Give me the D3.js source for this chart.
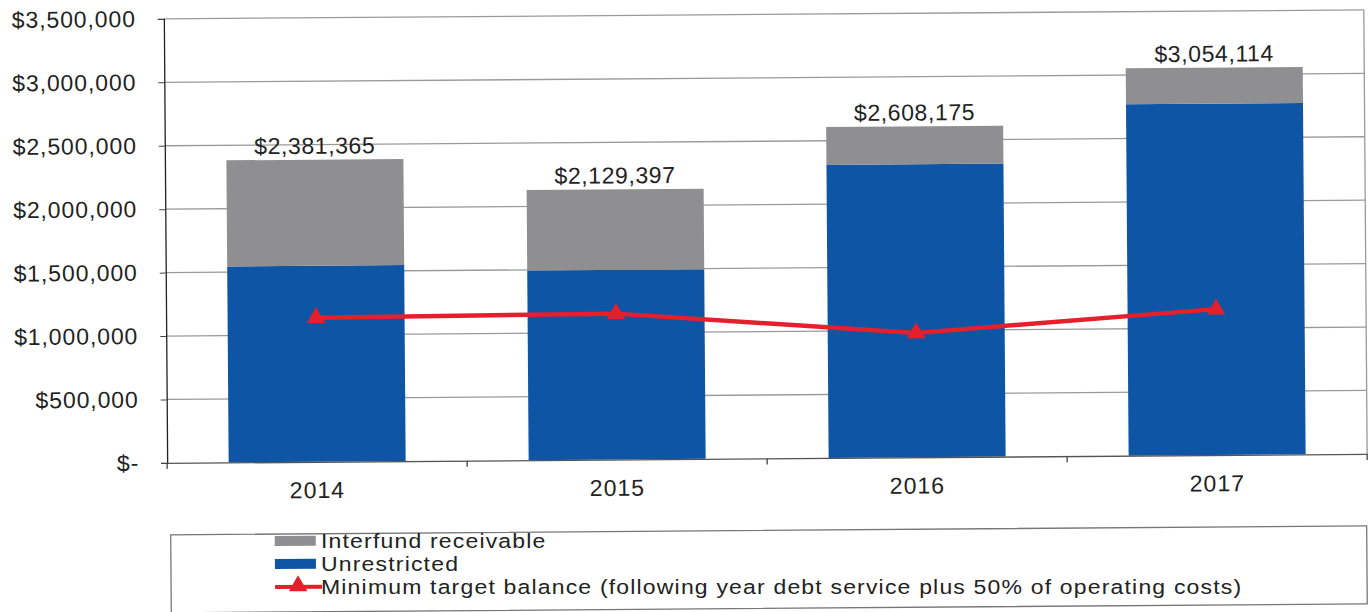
<!DOCTYPE html>
<html>
<head>
<meta charset="utf-8">
<script src="https://cdn.jsdelivr.net/npm/d3@7"></script>
<style>
  html, body { margin: 0; padding: 0; background: #fff; }
  svg { display: block; }
  text { font-family: "Liberation Sans", Arial, sans-serif; fill: #222; }
</style>
</head>
<body>
<svg id="chart" width="1369" height="612"></svg>
<script>
// Fund balance by year
const years = ["2014", "2015", "2016", "2017"];
const unrestricted = [1545000, 1495000, 2310000, 2770000];
const totals = [2381365, 2129397, 2608175, 3054114];
const interfund = totals.map((t, i) => t - unrestricted[i]);
const minimumTarget = [1135000, 1150000, 980000, 1150000];
const yTicks = [0, 500000, 1000000, 1500000, 2000000, 2500000, 3000000, 3500000];
const legendLabels = [
  "Interfund receivable",
  "Unrestricted",
  "Minimum target balance (following year debt service plus 50% of operating costs)"
];

const colors = { interfund: "#8f8f91", unrestricted: "#0e55a5", target: "#e61f2c", grid: "#9a9a9a" };

const W = 1369, H = 612;
const plot = { left: 166, right: 1366, top: 15, bottom: 459 };
const FONT = "Liberation Sans, Arial, sans-serif";

const svg = d3.select("#chart");
// slight tilt of the whole page
const g = svg.append("g").attr("transform", `rotate(-0.43 ${W / 2} ${H / 2})`);

const x = d3.scaleBand().domain(years).range([plot.left, plot.right]).paddingInner(0.41).paddingOuter(0.205);
const xc = d3.scaleBand().domain(years).range([plot.left, plot.right]);
const y = d3.scaleLinear().domain([0, 3500000]).range([plot.bottom, plot.top]);

const money = v => v === 0 ? "$-" : "$" + d3.format(",")(v);

// gridlines
g.append("g").selectAll("line").data(yTicks.filter(d => d > 0)).join("line")
  .attr("x1", plot.left).attr("x2", plot.right)
  .attr("y1", d => y(d)).attr("y2", d => y(d))
  .attr("stroke", colors.grid).attr("stroke-width", 1.3);

// plot border (right side)
g.append("line").attr("x1", plot.right).attr("x2", plot.right)
  .attr("y1", plot.top).attr("y2", plot.bottom)
  .attr("stroke", colors.grid).attr("stroke-width", 1.3);

// stacked bars
const barG = g.append("g");
barG.selectAll("rect.unr").data(years).join("rect")
  .attr("class", "unr")
  .attr("x", d => x(d)).attr("width", x.bandwidth())
  .attr("y", (d, i) => y(unrestricted[i]))
  .attr("height", (d, i) => y(0) - y(unrestricted[i]))
  .attr("fill", colors.unrestricted);
barG.selectAll("rect.inter").data(years).join("rect")
  .attr("class", "inter")
  .attr("x", d => x(d)).attr("width", x.bandwidth())
  .attr("y", (d, i) => y(unrestricted[i] + interfund[i]))
  .attr("height", (d, i) => y(unrestricted[i]) - y(unrestricted[i] + interfund[i]))
  .attr("fill", colors.interfund);

// total labels
g.append("g").selectAll("text").data(years).join("text")
  .attr("x", d => x(d) + x.bandwidth() / 2)
  .attr("y", (d, i) => y(totals[i]) - 6)
  .attr("text-anchor", "middle")
  .attr("font-size", 23).attr("letter-spacing", 0.6)
  .text((d, i) => money(totals[i]));

// y axis
const yAxis = d3.axisLeft(y).tickValues(yTicks).tickSize(6).tickPadding(22).tickFormat(money);
const ya = g.append("g").attr("transform", `translate(${plot.left},0)`).call(yAxis);
ya.select(".domain").attr("stroke", "#222").attr("stroke-width", 1.3);
ya.selectAll(".tick line").attr("stroke", "#444");
ya.selectAll(".tick text").attr("font-size", 23).attr("letter-spacing", 0.9)
  .attr("font-family", FONT).attr("fill", "#222");

// x axis
const xa = g.append("g").attr("transform", `translate(0,${plot.bottom})`)
  .call(d3.axisBottom(xc).tickSize(0).tickPadding(20));
xa.select(".domain").attr("stroke", "#555").attr("stroke-width", 1.3);
xa.selectAll(".tick text").attr("font-size", 23).attr("letter-spacing", 1)
  .attr("font-family", FONT).attr("fill", "#222");
// category separators below the baseline
g.append("g").selectAll("line").data(d3.range(years.length + 1)).join("line")
  .attr("x1", i => plot.left + i * xc.step()).attr("x2", i => plot.left + i * xc.step())
  .attr("y1", plot.bottom).attr("y2", plot.bottom + 6)
  .attr("stroke", "#444").attr("stroke-width", 1.3);

// minimum target line
const lineGen = d3.line().x((d, i) => xc(years[i]) + xc.bandwidth() / 2).y(d => y(d));
g.append("path").datum(minimumTarget)
  .attr("d", lineGen).attr("fill", "none")
  .attr("stroke", colors.target).attr("stroke-width", 4.5);
const tri = d3.symbol().type(d3.symbolTriangle).size(150);
g.append("g").selectAll("path").data(minimumTarget).join("path")
  .attr("transform", (d, i) => `translate(${xc(years[i]) + xc.bandwidth() / 2},${y(d)})`)
  .attr("d", tri).attr("fill", colors.target);

// legend frame and keys
const lg = g.append("g");
lg.append("rect").attr("x", 169).attr("y", 531).attr("width", 1196).attr("height", 78)
  .attr("fill", "#fff").attr("stroke", "#777").attr("stroke-width", 1.3);
const rowY = [538, 561, 584];
lg.append("rect").attr("x", 273).attr("y", rowY[0] - 5).attr("width", 41).attr("height", 10).attr("fill", colors.interfund);
lg.append("rect").attr("x", 273).attr("y", rowY[1] - 5).attr("width", 41).attr("height", 10).attr("fill", colors.unrestricted);
lg.append("line").attr("x1", 273).attr("x2", 320).attr("y1", rowY[2]).attr("y2", rowY[2])
  .attr("stroke", colors.target).attr("stroke-width", 4);
lg.append("path").attr("transform", `translate(296,${rowY[2] - 1})`).attr("d", tri).attr("fill", colors.target);

// legend labels, level and set in a widened face
svg.append("g").selectAll("text").data(legendLabels).join("text")
  .attr("transform", (d, i) => `translate(321,${rowY[i] + 2.7}) scale(1.18,1)`)
  .attr("dy", "0.36em")
  .attr("font-size", 19.5).attr("letter-spacing", 1.0)
  .text(d => d);
</script>
</body>
</html>
